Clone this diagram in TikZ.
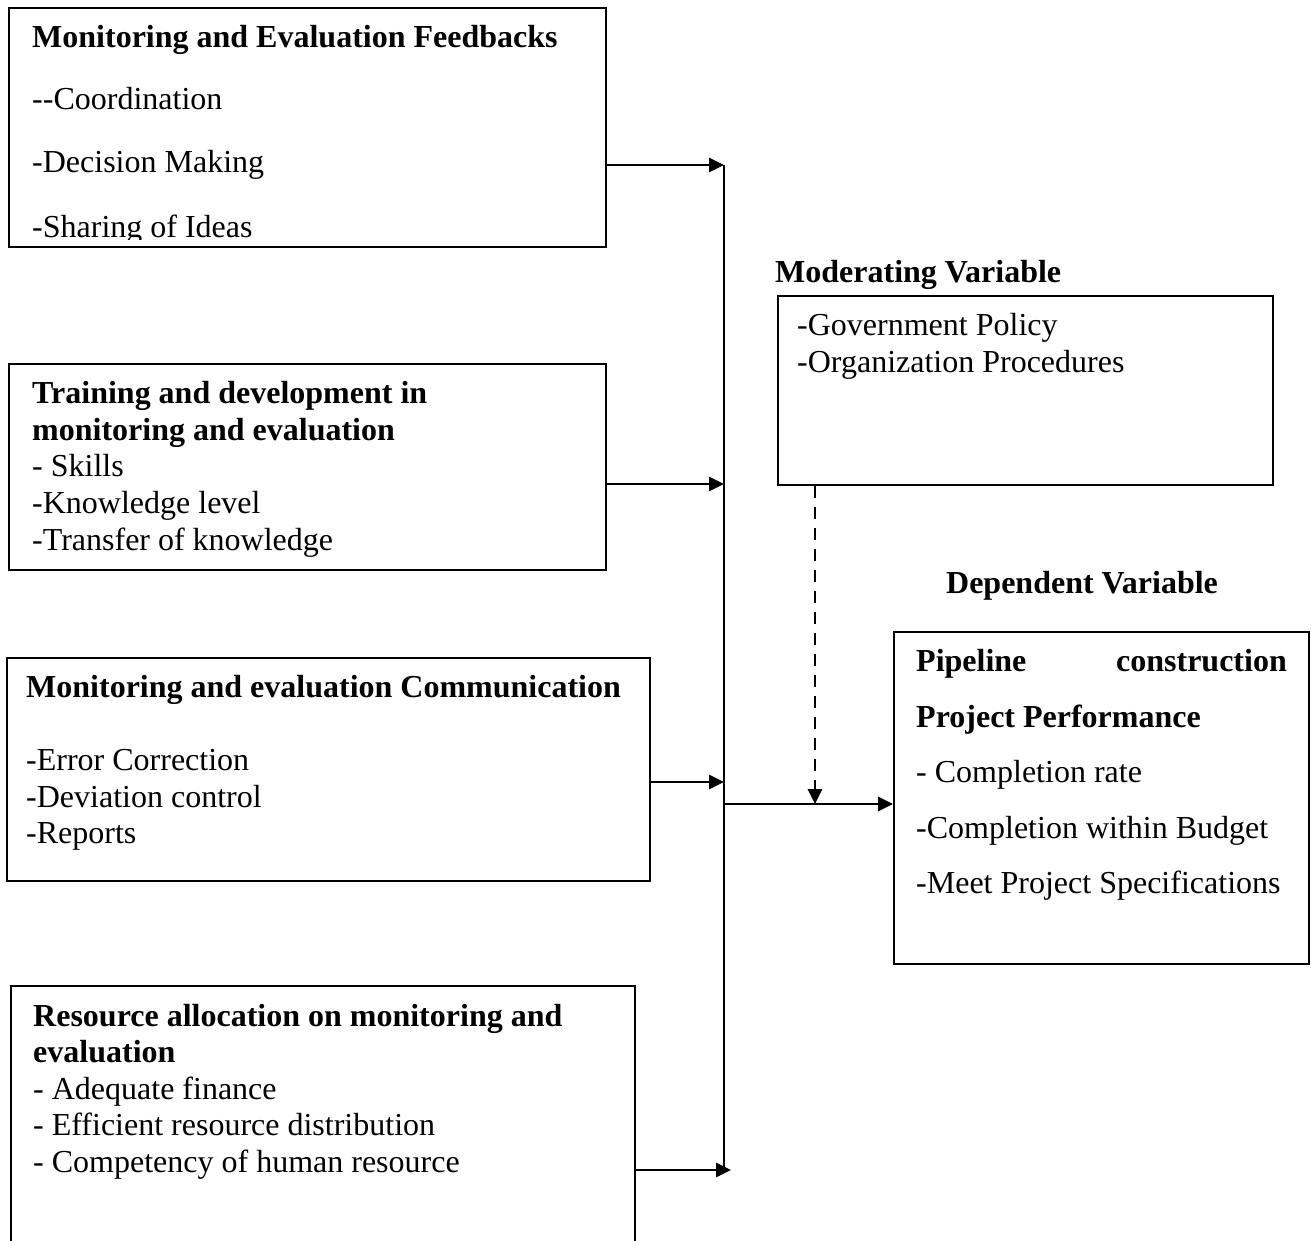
\documentclass[tikz,border=0pt]{standalone}
\usepackage{fontspec}
\setmainfont{Liberation Serif}
\usetikzlibrary{arrows.meta}
\begin{document}
\begin{tikzpicture}[x=1pt,y=-1pt,
  box/.style={draw,line width=2.2pt,rectangle,inner sep=0pt,anchor=north west},
  txt/.style={inner sep=0pt,anchor=base west,font=\fontsize{32}{37}\selectfont},
  ttl/.style={txt,font=\fontsize{32}{37}\selectfont\bfseries},
  arr/.style={line width=2.8pt,-{Triangle[length=15pt,width=14pt]}},
  bus/.style={line width=2.6pt},
  darr/.style={line width=2.8pt,dash pattern=on 12pt off 9pt,-{Triangle[length=15pt,width=14pt]}}]
\clip (0,0) rectangle (1311,1241);
\fill[white] (0,0) rectangle (1311,1241);
% Box 1
\node[box,minimum width=597pt,minimum height=239pt] (b1) at (8,7) {};
\begin{scope}
\clip (8,7) rectangle (605,240);
\node[ttl] (b1t) at (32,48) {Monitoring and Evaluation Feedbacks};
\node[txt] (b1a) at (32,110) {-{}-Coordination};
\node[txt] (b1b) at (32,173) {-Decision Making};
\node[txt] (b1c) at (32,238) {-Sharing of Ideas};
\end{scope}
% Box 2
\node[box,minimum width=597pt,minimum height=206pt] (b2) at (8,363) {};
\node[ttl] (b2t) at (32,403) {Training and development in};
\node[ttl] (b2u) at (32,440) {monitoring and evaluation};
\node[txt] (b2a) at (32,476) {- Skills};
\node[txt] (b2b) at (32,513) {-Knowledge level};
\node[txt] (b2c) at (32,550) {-Transfer of knowledge};
% Box 3
\node[box,minimum width=643pt,minimum height=223pt] (b3) at (6,657) {};
\node[ttl] (b3t) at (26,697) {Monitoring and evaluation Communication};
\node[txt] (b3a) at (26,770) {-Error Correction};
\node[txt] (b3b) at (26,807) {-Deviation control};
\node[txt] (b3c) at (26,843) {-Reports};
% Box 4
\node[box,minimum width=624pt,minimum height=280pt] (b4) at (10,985) {};
\node[ttl] (b4t) at (33,1026) {Resource allocation on monitoring and};
\node[ttl] (b4u) at (33,1062) {evaluation};
\node[txt] (b4a) at (33,1099) {- Adequate finance};
\node[txt] (b4b) at (33,1135) {- Efficient resource distribution};
\node[txt] (b4c) at (33,1172) {- Competency of human resource};
% Moderating
\node[ttl] (modt) at (775,283) {Moderating Variable};
\node[box,minimum width=495pt,minimum height=189pt] (mod) at (777,295) {};
\node[txt] (moda) at (797,335) {-Government Policy};
\node[txt] (modb) at (797,372) {-Organization Procedures};
% Dependent
\node[ttl,anchor=base] (dept) at (1082,593) {Dependent Variable};
\node[box,minimum width=415pt,minimum height=332pt] (pp) at (893,631) {};
\node[ttl] (ppa) at (916,671) {Pipeline};
\node[ttl,anchor=base east] (ppb) at (1287,671) {construction};
\node[ttl] (ppc) at (916,727) {Project Performance};
\node[txt] (ppd) at (916,782) {- Completion rate};
\node[txt] (ppe) at (916,838) {-Completion within Budget};
\node[txt] (ppf) at (916,893) {-Meet Project Specifications};
% Connectors
\coordinate (j1) at (724,165);
\coordinate (j2) at (724,484);
\coordinate (j3) at (724,782);
\coordinate (j4) at (724,1170);
\coordinate (j4t) at (731,1170);
\coordinate (jm) at (724,804);
\coordinate (dm) at (815,804);
\draw[bus] (j1) -- (j4);
\draw[arr] (b1.east |- j1) -- (j1);
\draw[arr] (b2.east |- j2) -- (j2);
\draw[arr] (b3.east |- j3) -- (j3);
\draw[arr] (b4.east |- j4) -- (j4t);
\draw[arr] (jm) -- (pp.west |- jm);
\draw[darr] (mod.south -| dm) -- (dm);
\end{tikzpicture}
\end{document}
